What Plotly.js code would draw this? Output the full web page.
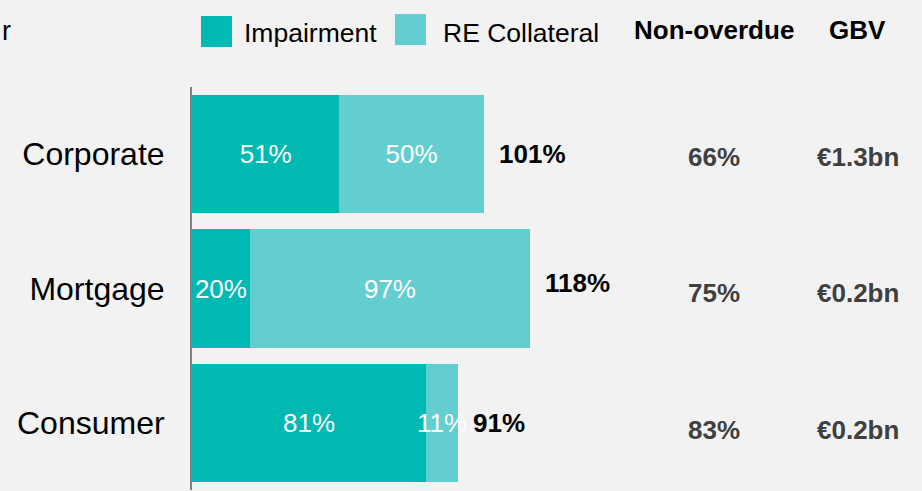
<!DOCTYPE html>
<html>
<head>
<meta charset="utf-8">
<script src="https://cdn.plot.ly/plotly-3.0.1.min.js"></script>
<style>html,body{margin:0;padding:0;background:#f2f2f2;}#chart{width:922px;height:491px;}</style>
</head>
<body>
<div id="chart"></div>
<script>
// ---- data ----
const categories = ["Corporate", "Mortgage", "Consumer"];
const impairment = [51, 20, 81];
const reCollateral = [50, 97, 11];
const totalLabels = ["101%", "118%", "91%"];
const nonOverdue = ["66%", "75%", "83%"];
const gbv = ["€1.3bn", "€0.2bn", "€0.2bn"];
const seriesNames = ["Impairment", "RE Collateral"];
const columnHeaders = ["Non-overdue", "GBV"];

// ---- style ----
const FONT = "Liberation Sans, Arial, sans-serif";
const C_IMP = "#00B9B3";
const C_RE = "#63CED0";
const totalNudge = [0, 6, 0];
const colNudge = [-3, -4, -7];

const pct = v => v + "%";

const traces = [
  {
    type: "bar", orientation: "h", name: seriesNames[0],
    y: categories, x: impairment, text: impairment.map(pct),
    marker: {color: C_IMP, line: {width: 0}},
    textposition: "inside", insidetextanchor: "middle", textangle: 0, constraintext: "none",
    textfont: {family: FONT, size: 26, color: "#ffffff"},
    hoverinfo: "none", showlegend: false
  },
  {
    type: "bar", orientation: "h", name: seriesNames[1],
    y: categories, x: reCollateral, text: reCollateral.map(pct),
    marker: {color: C_RE, line: {width: 0}},
    textposition: "inside", insidetextanchor: "middle", textangle: 0, constraintext: "none",
    textfont: {family: FONT, size: 26, color: "#ffffff"},
    hoverinfo: "none", showlegend: false
  }
];

const annotations = [];
categories.forEach((c, i) => {
  annotations.push({
    xref: "x", yref: "y", x: impairment[i] + reCollateral[i], y: c,
    xanchor: "left", yanchor: "middle", xshift: 13, yshift: totalNudge[i],
    text: "<b>" + totalLabels[i] + "</b>", showarrow: false,
    font: {family: FONT, size: 26, color: "#000000"}
  });
  annotations.push({
    xref: "paper", yref: "y", x: 0.715, y: c, xanchor: "center", yanchor: "middle",
    yshift: colNudge[i], text: "<b>" + nonOverdue[i] + "</b>", showarrow: false,
    font: {family: FONT, size: 26, color: "#404040"}
  });
  annotations.push({
    xref: "paper", yref: "y", x: 0.912, y: c, xanchor: "center", yanchor: "middle",
    yshift: colNudge[i], text: "<b>" + gbv[i] + "</b>", showarrow: false,
    font: {family: FONT, size: 26, color: "#404040"}
  });
});
// headers
annotations.push({xref: "paper", yref: "paper", x: 0.715, y: 1.141, xanchor: "center", yanchor: "middle",
  text: "<b>" + columnHeaders[0] + "</b>", showarrow: false, font: {family: FONT, size: 26, color: "#000"}});
annotations.push({xref: "paper", yref: "paper", x: 0.912, y: 1.141, xanchor: "center", yanchor: "middle",
  text: "<b>" + columnHeaders[1] + "</b>", showarrow: false, font: {family: FONT, size: 26, color: "#000"}});
// legend text
annotations.push({xref: "paper", yref: "paper", x: 0.0685, y: 1.134, xanchor: "left", yanchor: "middle",
  text: seriesNames[0], showarrow: false, font: {family: FONT, size: 26.5, color: "#000"}});
annotations.push({xref: "paper", yref: "paper", x: 0.341, y: 1.134, xanchor: "left", yanchor: "middle",
  text: seriesNames[1], showarrow: false, font: {family: FONT, size: 26.5, color: "#000"}});
// title fragment visible at the left edge
annotations.push({xref: "paper", yref: "paper", x: -0.263, y: 1.139, xanchor: "left", yanchor: "middle",
  text: "r", showarrow: false, font: {family: FONT, size: 27, color: "#000"}});

const shapes = [
  {type: "rect", xref: "paper", yref: "paper", x0: 0.0123, x1: 0.0548, y0: 1.099, y1: 1.176,
   fillcolor: C_IMP, line: {width: 0}},
  {type: "rect", xref: "paper", yref: "paper", x0: 0.278, x1: 0.3205, y0: 1.104, y1: 1.181,
   fillcolor: C_RE, line: {width: 0}}
];

const layout = {
  width: 922, height: 491,
  margin: {l: 192, r: 0, t: 87, b: 1, pad: 0},
  paper_bgcolor: "#f2f2f2", plot_bgcolor: "#f2f2f2",
  barmode: "stack", bargap: 0.12,
  showlegend: false,
  font: {family: FONT},
  xaxis: {range: [0, 252.6], showgrid: false, zeroline: false, showticklabels: false, showline: false, fixedrange: true},
  yaxis: {type: "category", categoryarray: categories, range: [2.5, -0.5],
    showline: true, linecolor: "#808080", linewidth: 2, showgrid: false, zeroline: false,
    ticks: "", ticklabelstandoff: 19, tickfont: {family: FONT, size: 32, color: "#000"}},
  annotations: annotations, shapes: shapes
};

Plotly.newPlot("chart", traces, layout, {staticPlot: true, displayModeBar: false});
</script>
</body>
</html>
